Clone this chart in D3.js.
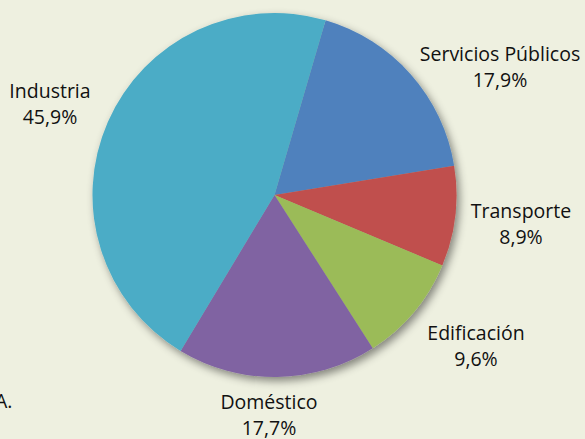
<!DOCTYPE html>
<html>
<head>
<meta charset="utf-8">
<script src="https://cdn.jsdelivr.net/npm/d3@7"></script>
<style>
  body { margin: 0; background: #eef0e0; }
  svg { display: block; }
  text { font-family: "Open Sans", sans-serif; font-size: 19.5px; fill: #111; }
</style>
</head>
<body>
<svg width="585" height="439"></svg>
<script>
var categories = ["Servicios Públicos", "Transporte", "Edificación", "Doméstico", "Industria"];
var values = [17.9, 8.9, 9.6, 17.7, 45.9];
var valueLabels = ["17,9%", "8,9%", "9,6%", "17,7%", "45,9%"];
var colors = ["#4f81bd", "#c0504d", "#9bbb59", "#8064a2", "#4bacc6"];

// label centre x and first-line baseline
var labelPos = [[500, 61], [521, 218], [476, 340], [269, 409], [50, 98]];

var svg = d3.select("svg");
var cx = 274.5, cy = 195, radius = 182;

var defs = svg.append("defs");
var f = defs.append("filter").attr("id", "shadow")
    .attr("x", "-20%").attr("y", "-20%").attr("width", "140%").attr("height", "140%");
f.append("feDropShadow").attr("dx", 3).attr("dy", 4).attr("stdDeviation", 4)
    .attr("flood-color", "#000").attr("flood-opacity", 0.45);

var startA = 16.3 * Math.PI / 180;
var pie = d3.pie().sort(null).value(function(d){ return d; })
    .startAngle(startA).endAngle(startA + 2 * Math.PI);
var arc = d3.arc().innerRadius(0).outerRadius(radius);

var g = svg.append("g").attr("transform", "translate(" + cx + "," + cy + ")");
g.append("g").attr("filter", "url(#shadow)")
    .selectAll("path")
    .data(pie(values))
    .enter().append("path")
    .attr("d", arc)
    .attr("fill", function(d, i){ return colors[i]; });

var labels = svg.append("g");
for (let i = 0; i < categories.length; i++) {
    var t = labels.append("text")
        .attr("text-anchor", "middle")
        .attr("x", labelPos[i][0])
        .attr("y", labelPos[i][1]);
    t.append("tspan").attr("x", labelPos[i][0]).text(categories[i]);
    t.append("tspan").attr("x", labelPos[i][0]).attr("dy", 26).text(valueLabels[i]);
}

svg.append("text").attr("x", -5).attr("y", 408).text("A.");
</script>
</body>
</html>
